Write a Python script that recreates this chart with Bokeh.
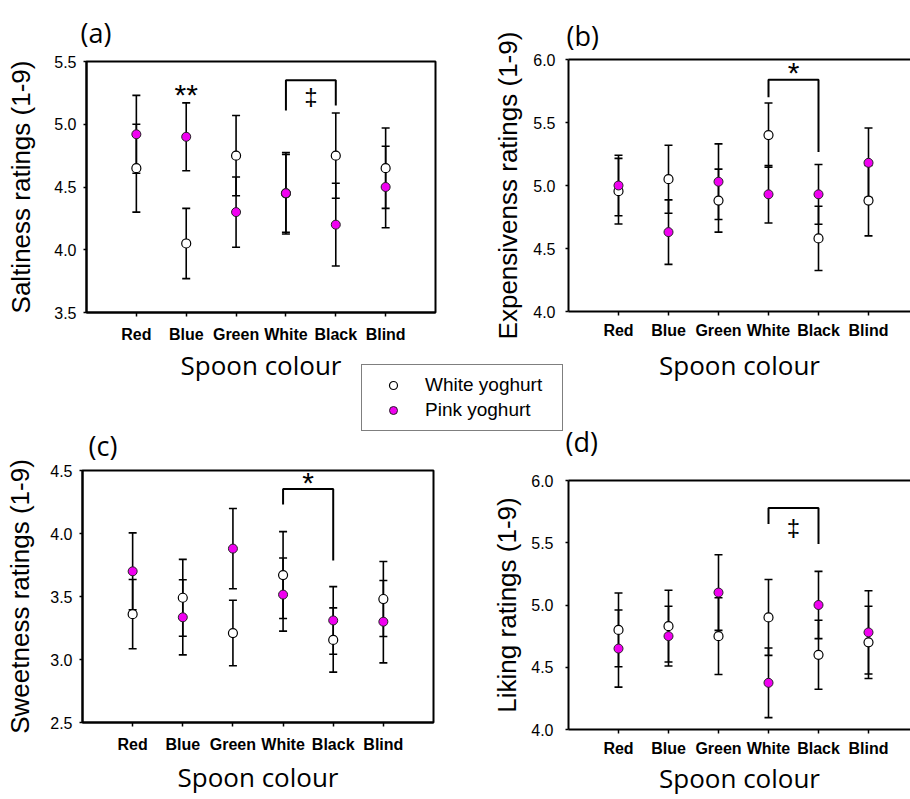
from bokeh.plotting import figure
from bokeh.layouts import row, column
from bokeh.models import (Range1d, FixedTicker, Whisker, TeeHead, ColumnDataSource,
                          LinearAxis, Legend, LegendItem, PrintfTickFormatter)
from bokeh.core.properties import value
from bokeh.embed import file_html
from bokeh.resources import INLINE

# ---------------- data ----------------
categories = ["Red", "Blue", "Green", "White", "Black", "Blind"]

# (a) Saltiness
salt_white_mean = [4.65, 4.05, 4.75, 4.45, 4.75, 4.65]
salt_white_err = [0.35, 0.28, 0.32, 0.325, 0.34, 0.32]
salt_pink_mean = [4.92, 4.90, 4.30, 4.45, 4.20, 4.50]
salt_pink_err = [0.31, 0.27, 0.28, 0.31, 0.33, 0.325]

# (b) Expensiveness
exp_white_mean = [4.955, 5.05, 4.88, 5.40, 4.58, 4.88]
exp_white_err = [0.26, 0.27, 0.25, 0.255, 0.255, 0.28]
exp_pink_mean = [5.00, 4.63, 5.03, 4.93, 4.93, 5.18]
exp_pink_err = [0.24, 0.256, 0.30, 0.228, 0.237, 0.276]

# (c) Sweetness
sweet_white_mean = [3.36, 3.49, 3.21, 3.67, 3.155, 3.48]
sweet_white_err = [0.275, 0.305, 0.26, 0.345, 0.255, 0.298]
sweet_pink_mean = [3.70, 3.335, 3.88, 3.515, 3.31, 3.30]
sweet_pink_err = [0.305, 0.298, 0.318, 0.29, 0.268, 0.327]

# (d) Liking
like_white_mean = [4.80, 4.83, 4.75, 4.90, 4.60, 4.70]
like_white_err = [0.296, 0.288, 0.308, 0.305, 0.277, 0.29]
like_pink_mean = [4.65, 4.75, 5.10, 4.375, 5.00, 4.78]
like_pink_err = [0.31, 0.24, 0.304, 0.28, 0.27, 0.334]

# y-axis tick values (first/last = axis range)
salt_yticks = [3.5, 4.0, 4.5, 5.0, 5.5]
exp_yticks = [4.0, 4.5, 5.0, 5.5, 6.0]
sweet_yticks = [2.5, 3.0, 3.5, 4.0, 4.5]
like_yticks = [4.0, 4.5, 5.0, 5.5, 6.0]

# significance brackets: (from, to, top, left end, right end, mark, mark y)
salt_bracket = ("White", "Black", 5.35, 5.11, 5.15, "\u2021", 5.21)
exp_bracket = ("White", "Black", 5.84, 5.70, 5.265, "*", 5.93)
sweet_bracket = ("White", "Black", 4.354, 4.23, 3.785, "*", 4.434)
like_bracket = ("White", "Black", 5.78, 5.65, 5.49, "\u2021", 5.61)
# extra single-category marks
salt_marks = [("Blue", 5.27, "**")]

panel_letters = ["(a)", "(b)", "(c)", "(d)"]
legend_labels = ["White yoghurt", "Pink yoghurt"]

AX_FONT = "Liberation Sans"
TITLE_FONT = "Open Sans"
PINK = "#f000f0"

# page geometry (pixels)
PAGE_W, PAGE_H = 910, 799
LETTER_POS = [(80, 32), (566, 35), (88, 445), (565, 441)]   # left x, centre y
LEGEND_BOX = (361, 368)                                     # left, bottom offset


def add_mark(p, x, y, txt):
    if txt == "\u2021":
        size, off = 24, -1.5
    else:
        size, off = 30, 4
    p.text(x=[x], y=[y], text=[txt], text_font=value(AX_FONT),
           text_font_size=f"{size}px", text_align="center",
           text_baseline="alphabetic", y_offset=off, text_color="black")


def make_panel(ylabel, yticks, wm, we, pm, pe, bracket, marks, g):
    xs = list(range(1, len(categories) + 1))
    p = figure(width=g["w"], height=g["h"], title=None, toolbar_location=None,
               output_backend="svg",
               x_range=Range1d(0, g["xend"]), y_range=Range1d(yticks[0], yticks[-1]),
               min_border_left=g["mbl"], min_border_right=g["mbr"],
               min_border_top=g["mbt"], min_border_bottom=g["mbb"])
    p.frame_align = False
    p.xgrid.visible = False
    p.ygrid.visible = False
    p.background_fill_color = "white"
    p.border_fill_color = "white"

    xa = p.below[0]
    ya = p.left[0]
    for ax in (xa, ya):
        ax.axis_line_width = 2
        ax.axis_line_color = "black"
        ax.major_tick_line_width = 1.5
        ax.major_tick_line_color = "black"
        ax.major_tick_in = 0
        ax.minor_tick_line_color = None
        ax.major_label_text_color = "black"
        ax.axis_label_text_color = "black"
        ax.axis_label_text_font_style = "normal"

    if g["box"]:
        p.outline_line_color = "black"
        p.outline_line_width = 2
    else:
        p.outline_line_color = None
        top = LinearAxis(ticker=FixedTicker(ticks=[]), axis_line_width=2,
                         axis_line_color="black", major_tick_line_color=None,
                         minor_tick_line_color=None, major_label_text_font_size="0px")
        p.add_layout(top, "above")

    ya.ticker = FixedTicker(ticks=yticks)
    ya.formatter = PrintfTickFormatter(format="%.1f")
    ya.major_tick_out = 3
    ya.major_label_text_font = AX_FONT
    ya.major_label_text_font_size = "16px"
    ya.major_label_standoff = g["yls"]
    ya.axis_label = ylabel
    ya.axis_label_text_font = AX_FONT
    ya.axis_label_text_font_size = "26px"
    ya.axis_label_standoff = g["yas"]

    xa.ticker = FixedTicker(ticks=xs)
    xa.major_label_overrides = {x: c for x, c in zip(xs, categories)}
    xa.major_tick_out = 4
    xa.major_label_text_font = AX_FONT
    xa.major_label_text_font_size = "16px"
    xa.major_label_text_font_style = "bold"
    xa.major_label_standoff = g["xls"]
    xa.axis_label = "Spoon colour"
    xa.axis_label_text_font = TITLE_FONT
    xa.axis_label_text_font_size = "26px"
    xa.axis_label_standoff = g["xas"]

    # error bars
    for means, errs in ((wm, we), (pm, pe)):
        src = ColumnDataSource(dict(x=xs,
                                    upper=[m + e for m, e in zip(means, errs)],
                                    lower=[m - e for m, e in zip(means, errs)]))
        p.add_layout(Whisker(source=src, base="x", upper="upper", lower="lower",
                             dimension="height", line_color="black", line_width=1.6,
                             level="underlay",
                             upper_head=TeeHead(size=8, line_width=1.6, line_color="black"),
                             lower_head=TeeHead(size=8, line_width=1.6, line_color="black")))

    p.scatter(xs, wm, size=9, marker="circle", fill_color="white",
              line_color="black", line_width=1.2)
    p.scatter(xs, pm, size=9, marker="circle", fill_color=PINK,
              line_color="#222222", line_width=1.0)

    # significance bracket
    c0, c1, top_y, yl, yr, mark, my = bracket
    x0 = categories.index(c0) + 1
    x1 = categories.index(c1) + 1
    p.line([x0, x0, x1, x1], [yl, top_y, top_y, yr], line_color="black", line_width=2)
    add_mark(p, (x0 + x1) / 2, my, mark)
    for cat, y, txt in marks:
        add_mark(p, categories.index(cat) + 1, y, txt)
    return p


ga = dict(w=470, h=386, mbl=86, mbr=35, mbt=61, mbb=74, xend=7, box=True,
          yls=7, yas=15, xls=9, xas=1)
gb = dict(w=440, h=386, mbl=98, mbr=0, mbt=59, mbb=75, xend=6.84, box=False,
          yls=10, yas=7, xls=6, xas=5)
gc = dict(w=470, h=413, mbl=82, mbr=37, mbt=84, mbb=77, xend=7, box=True,
          yls=7, yas=12, xls=9, xas=3)
gd = dict(w=440, h=413, mbl=98, mbr=0, mbt=94, mbb=70, xend=6.84, box=False,
          yls=12, yas=6, xls=6, xas=0)

pa = make_panel("Saltiness ratings (1-9)", salt_yticks,
                salt_white_mean, salt_white_err, salt_pink_mean, salt_pink_err,
                salt_bracket, salt_marks, ga)
pb = make_panel("Expensivenss ratings (1-9)", exp_yticks,
                exp_white_mean, exp_white_err, exp_pink_mean, exp_pink_err,
                exp_bracket, [], gb)
pc = make_panel("Sweetness ratings (1-9)", sweet_yticks,
                sweet_white_mean, sweet_white_err, sweet_pink_mean, sweet_pink_err,
                sweet_bracket, [], gc)
pd_ = make_panel("Liking ratings (1-9)", like_yticks,
                 like_white_mean, like_white_err, like_pink_mean, like_pink_err,
                 like_bracket, [], gd)

# transparent overlay over the whole page: panel letters and shared legend
ov = figure(width=PAGE_W, height=PAGE_H, title=None, toolbar_location=None,
            output_backend="svg", x_axis_type=None, y_axis_type=None,
            x_range=Range1d(0, PAGE_W), y_range=Range1d(PAGE_H, 0), min_border=0,
            margin=(-PAGE_H, 0, 0, 0))
ov.frame_align = False
ov.outline_line_color = None
ov.border_fill_color = None
ov.background_fill_color = None
ov.xgrid.visible = False
ov.ygrid.visible = False
ov.text(x=[p[0] for p in LETTER_POS], y=[p[1] for p in LETTER_POS],
        text=panel_letters, text_font=value(TITLE_FONT), text_font_size="27px",
        text_align="left", text_baseline="middle", text_color="black")
# legend-only renderers: their single point lies outside the overlay's range
rw = ov.scatter(x=[-50], y=[-50], size=9, marker="circle", fill_color="white",
                line_color="black", line_width=1.2)
rp = ov.scatter(x=[-50], y=[-50], size=9, marker="circle", fill_color=PINK,
                line_color="#222222", line_width=1.0)
leg = Legend(items=[LegendItem(label=legend_labels[0], renderers=[rw]),
                    LegendItem(label=legend_labels[1], renderers=[rp])],
             location=LEGEND_BOX, orientation="vertical", margin=0,
             border_line_color="black", border_line_width=1,
             background_fill_color="white", background_fill_alpha=1,
             padding=9, spacing=3, glyph_width=44, glyph_height=20,
             label_height=20, label_width=128, label_standoff=10,
             label_text_font=AX_FONT, label_text_font_size="19px",
             label_text_color="black")
ov.add_layout(leg)

layout = column(row(pa, pb), row(pc, pd_), ov)
open("out.html", "w").write(file_html(layout, INLINE))
